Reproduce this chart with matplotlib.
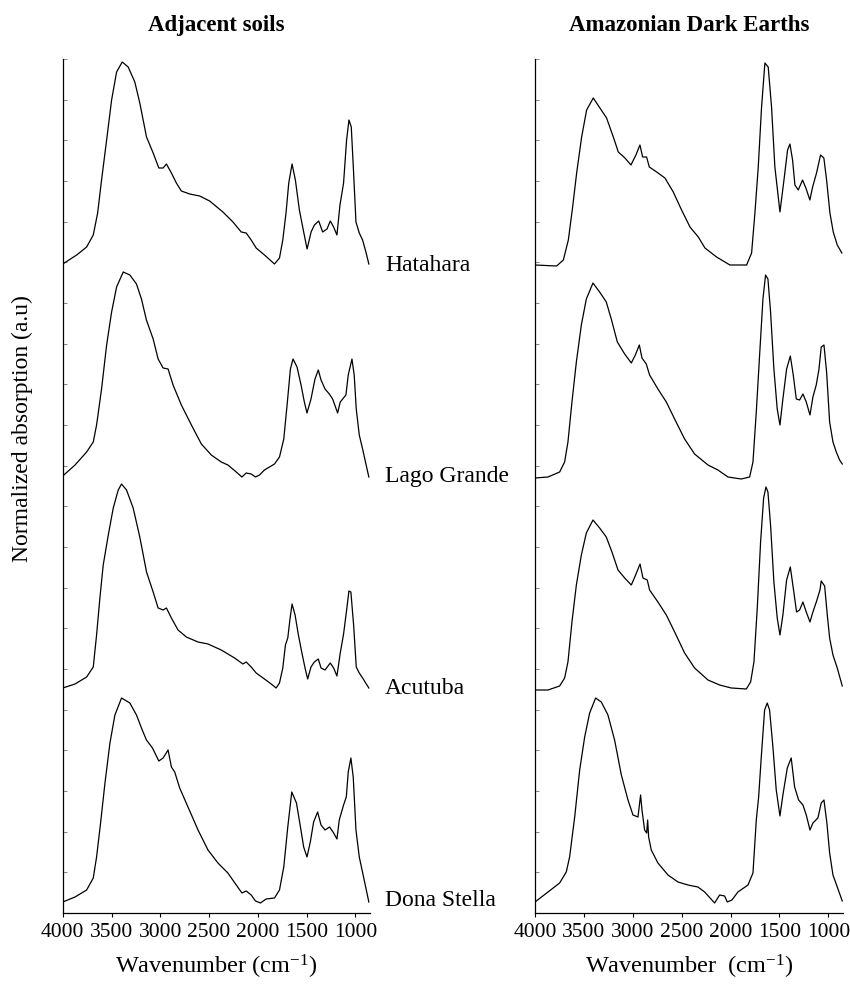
import numpy as np
import matplotlib
matplotlib.use('Agg')
import matplotlib.pyplot as plt
import matplotlib.transforms as mtransforms
from matplotlib.ticker import MultipleLocator

plt.rcParams['font.family'] = ['Liberation Serif', 'DejaVu Serif']
plt.rcParams['mathtext.fontset'] = 'custom'
plt.rcParams['mathtext.rm'] = 'Liberation Serif'
plt.rcParams['mathtext.it'] = 'Liberation Serif:italic'
plt.rcParams['mathtext.bf'] = 'Liberation Serif:bold'

samples = ['Hatahara', 'Lago Grande', 'Acutuba', 'Dona Stella']
offsets = [636, 424, 212, 0]   # vertical shift of each trace (a.u.)
x_ticks = [4000, 3500, 3000, 2500, 2000, 1500, 1000]

# ---------- Adjacent soils ----------
adj_hat_wn = [4000, 3857, 3755, 3687, 3642, 3602, 3550, 3499, 3448, 3390, 3329, 3261, 3210, 3141,
              3073, 3015, 2971, 2937, 2886, 2835, 2784, 2698, 2596, 2494, 2358, 2255, 2170, 2119,
              2068, 2017, 1932, 1829, 1778, 1744, 1710, 1683, 1649, 1615, 1574, 1540, 1495, 1454,
              1420, 1376, 1335, 1291, 1257, 1223, 1189, 1158, 1121, 1090, 1066, 1042, 1018, 994,
              960, 926, 892, 862]
adj_hat_a = [13, 22, 30, 42, 64, 97, 137, 177, 205, 215, 210, 195, 174, 140,
             124, 109, 109, 113, 104, 94, 86, 83, 81, 76, 65, 55, 45, 44,
             37, 29, 22, 13, 19, 37, 65, 94, 113, 97, 67, 50, 28, 45,
             52, 56, 45, 48, 56, 50, 42, 72, 94, 137, 157, 150, 104, 55,
             44, 37, 25, 13]

adj_lago_wn = [4000, 3874, 3755, 3687, 3653, 3602, 3550, 3499, 3448, 3380, 3312, 3244, 3193, 3142,
               3073, 3022, 2971, 2920, 2869, 2784, 2681, 2579, 2477, 2375, 2307, 2221, 2163, 2119,
               2068, 2024, 1983, 1932, 1829, 1778, 1734, 1700, 1666, 1639, 1598, 1557, 1523, 1496,
               1455, 1414, 1380, 1352, 1311, 1267, 1233, 1182, 1155, 1097, 1073, 1035, 1012, 991,
               960, 926, 862]
adj_lago_a = [13, 24, 37, 47, 64, 100, 144, 177, 202, 217, 214, 205, 190, 169,
              150, 130, 121, 120, 104, 84, 64, 45, 34, 27, 24, 17, 12, 16,
              15, 12, 14, 19, 25, 32, 50, 84, 120, 130, 122, 104, 87, 76,
              90, 110, 119, 109, 100, 95, 90, 76, 87, 94, 114, 130, 114, 80,
              54, 40, 12]

adj_acu_wn = [4000, 3874, 3755, 3687, 3653, 3619, 3585, 3533, 3482, 3431, 3397, 3346, 3278, 3210,
              3141, 3073, 3022, 2971, 2937, 2886, 2818, 2733, 2613, 2511, 2375, 2238, 2153, 2119,
              2068, 2017, 1932, 1863, 1812, 1778, 1744, 1717, 1693, 1669, 1649, 1618, 1584, 1550,
              1516, 1489, 1455, 1421, 1380, 1352, 1311, 1257, 1223, 1189, 1155, 1121, 1087, 1066,
              1046, 1018, 991, 960, 926, 862]
adj_acu_a = [13, 17, 24, 34, 66, 103, 136, 166, 193, 211, 217, 211, 193, 164,
             129, 109, 93, 91, 93, 83, 71, 64, 59, 57, 51, 43, 37, 39,
             34, 28, 22, 17, 13, 18, 33, 56, 63, 83, 97, 86, 66, 49,
             33, 22, 34, 39, 42, 33, 31, 38, 33, 25, 48, 67, 93, 110,
             109, 76, 34, 28, 23, 13]

adj_dona_wn = [4000, 3874, 3755, 3687, 3653, 3612, 3567, 3516, 3465, 3397, 3312, 3244, 3193, 3142,
               3080, 3015, 2971, 2920, 2886, 2852, 2801, 2716, 2613, 2511, 2409, 2307, 2221, 2163,
               2119, 2068, 2024, 1973, 1915, 1829, 1778, 1734, 1693, 1652, 1604, 1563, 1530, 1496,
               1462, 1428, 1387, 1352, 1311, 1264, 1223, 1189, 1165, 1121, 1093, 1073, 1046, 1022,
               994, 960, 916, 862]
adj_dona_a = [11, 16, 23, 35, 56, 90, 130, 170, 198, 215, 210, 198, 185, 173,
              165, 152, 155, 163, 146, 141, 125, 106, 83, 63, 50, 40, 28, 20,
              22, 18, 12, 10, 14, 15, 23, 46, 86, 121, 110, 86, 66, 56,
              71, 91, 101, 88, 83, 86, 80, 74, 93, 108, 116, 141, 155, 136,
              83, 56, 36, 11]

# ---------- Amazonian Dark Earths ----------
ade_hat_wn = [4000, 3779, 3710, 3659, 3615, 3574, 3523, 3472, 3404, 3336, 3268, 3199, 3148, 3080,
              3019, 2968, 2927, 2899, 2859, 2831, 2756, 2671, 2586, 2501, 2415, 2330, 2262, 2143,
              2007, 1836, 1785, 1751, 1717, 1683, 1649, 1615, 1581, 1547, 1495, 1454, 1417, 1393,
              1366, 1342, 1308, 1264, 1230, 1189, 1161, 1121, 1080, 1046, 1018, 984, 950, 909, 862]
ade_hat_a = [12, 11, 17, 37, 70, 104, 140, 167, 179, 169, 159, 140, 125, 119,
             112, 122, 132, 120, 120, 110, 105, 99, 85, 67, 50, 40, 29, 20,
             12, 12, 24, 64, 110, 170, 214, 210, 170, 110, 65, 97, 127, 133,
             117, 92, 87, 97, 89, 77, 90, 104, 122, 119, 97, 64, 45, 32, 24]

ade_lago_wn = [4000, 3867, 3748, 3697, 3663, 3622, 3577, 3526, 3475, 3407, 3339, 3271, 3220, 3158,
               3083, 3015, 2974, 2933, 2906, 2862, 2828, 2743, 2657, 2572, 2470, 2368, 2231, 2129,
               2027, 1891, 1805, 1771, 1737, 1703, 1669, 1642, 1618, 1591, 1557, 1523, 1495, 1465,
               1427, 1389, 1359, 1328, 1294, 1260, 1226, 1188, 1158, 1124, 1096, 1073, 1045, 1018,
               987, 953, 919, 885, 858]
ade_lago_a = [11, 12, 17, 27, 47, 87, 127, 164, 190, 206, 197, 187, 170, 147,
              135, 126, 134, 144, 131, 125, 114, 100, 87, 70, 50, 35, 24, 19,
              12, 10, 12, 27, 77, 134, 190, 214, 210, 177, 120, 80, 64, 90,
              120, 133, 114, 90, 89, 95, 87, 74, 92, 104, 120, 142, 144, 117,
              67, 47, 37, 29, 25]

ade_acu_wn = [4000, 3867, 3748, 3697, 3663, 3622, 3577, 3526, 3475, 3407, 3339, 3271, 3213, 3151,
              3083, 3015, 2971, 2926, 2896, 2852, 2828, 2743, 2657, 2572, 2470, 2368, 2231, 2112,
              1993, 1839, 1795, 1761, 1727, 1693, 1662, 1638, 1618, 1591, 1557, 1523, 1495, 1465,
              1427, 1389, 1359, 1325, 1294, 1260, 1226, 1188, 1158, 1120, 1086, 1073, 1038, 1011,
              987, 953, 909, 858]
ade_acu_a = [11, 11, 15, 23, 39, 79, 116, 146, 168, 181, 173, 164, 149, 131,
             123, 116, 126, 137, 123, 121, 111, 99, 86, 69, 48, 33, 21, 16,
             13, 12, 19, 39, 93, 159, 203, 214, 209, 176, 119, 83, 66, 86,
             121, 134, 113, 89, 91, 99, 89, 79, 89, 100, 111, 120, 115, 86,
             63, 46, 33, 15]

ade_dona_wn = [4000, 3867, 3748, 3680, 3646, 3594, 3543, 3492, 3441, 3380, 3322, 3254, 3186, 3117,
               3049, 2998, 2947, 2920, 2906, 2879, 2858, 2848, 2838, 2811, 2743, 2640, 2538, 2436,
               2334, 2265, 2163, 2112, 2061, 2034, 1986, 1925, 1822, 1771, 1737, 1713, 1686, 1652,
               1625, 1601, 1567, 1533, 1495, 1465, 1420, 1380, 1345, 1304, 1260, 1226, 1188, 1158,
               1107, 1073, 1045, 1015, 987, 953, 909, 858]
ade_dona_a = [11, 21, 30, 41, 56, 96, 143, 176, 200, 215, 211, 198, 173, 138,
              113, 98, 96, 118, 103, 83, 80, 93, 76, 63, 50, 38, 31, 28,
              26, 21, 10, 18, 17, 11, 13, 21, 28, 40, 93, 116, 156, 203,
              210, 203, 166, 123, 97, 118, 145, 155, 126, 113, 108, 98, 83, 90,
              95, 110, 113, 90, 60, 38, 26, 12]

panels = [
    ('Adjacent soils', 'Wavenumber (cm$^{-1}$)',
     [(adj_hat_wn, adj_hat_a), (adj_lago_wn, adj_lago_a),
      (adj_acu_wn, adj_acu_a), (adj_dona_wn, adj_dona_a)]),
    ('Amazonian Dark Earths', 'Wavenumber  (cm$^{-1}$)',
     [(ade_hat_wn, ade_hat_a), (ade_lago_wn, ade_lago_a),
      (ade_acu_wn, ade_acu_a), (ade_dona_wn, ade_dona_a)]),
]

fig = plt.figure(figsize=(8.5, 9.85), dpi=100)
ax_left = fig.add_axes([0.0738, 0.0731, 0.3615, 0.867])
ax_right = fig.add_axes([0.6294, 0.0731, 0.3624, 0.867])

for ax, (title, xlabel, traces) in zip([ax_left, ax_right], panels):
    for (wn, a), off in zip(traces, offsets):
        ax.plot(wn, np.array(a) + off, color='black', lw=0.9,
                solid_joinstyle='round')

    ax.set_xlim(4000, 850)
    ax.set_ylim(0, 854)
    ax.set_xticks(x_ticks)
    ax.yaxis.set_major_locator(MultipleLocator(854 / 21))
    ax.tick_params(axis='x', direction='out', length=3, width=0.8, labelsize=15.5, pad=4)
    ax.tick_params(axis='y', direction='in', length=3, width=0.6, color='0.45', labelleft=False)
    for side in ['top', 'right']:
        ax.spines[side].set_visible(False)
    for side in ['left', 'bottom']:
        ax.spines[side].set_linewidth(0.9)

    ax.set_title(title, fontsize=16.5, fontweight='bold', pad=20)
    ax.set_xlabel(xlabel, fontsize=17.5, labelpad=8)

# sample names next to the left panel traces
trans = mtransforms.blended_transform_factory(ax_left.transAxes, ax_left.transData)
for name, off in zip(samples, offsets):
    ax_left.text(1.049, off + 12, name, transform=trans, fontsize=17,
                 ha='left', va='center')

fig.text(0.026, 0.565, 'Normalized absorption (a.u)', rotation=90,
         ha='center', va='center', fontsize=17)

fig.savefig('out.png', dpi=100)
